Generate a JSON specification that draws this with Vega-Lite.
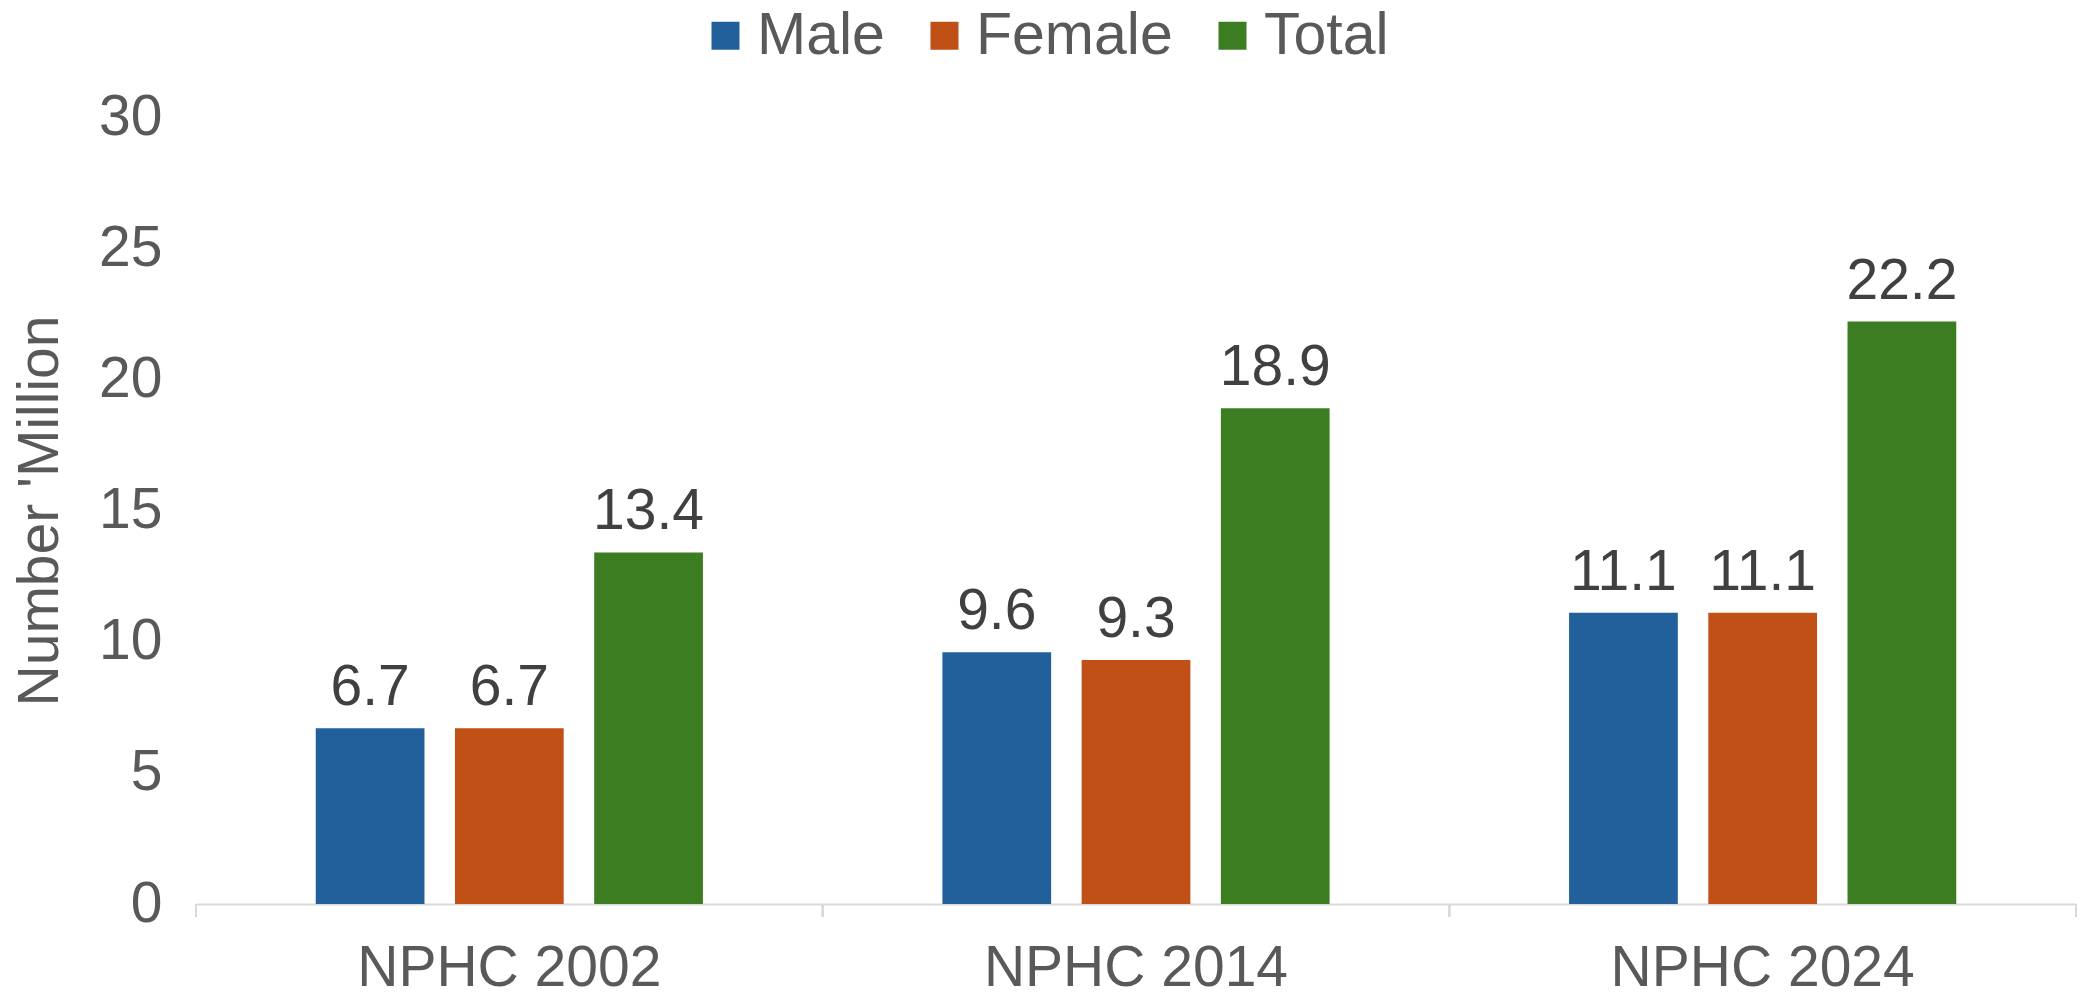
{
  "$schema": "https://vega.github.io/schema/vega-lite/v6.json",
  "width": 1880,
  "height": 787,
  "autosize": "none",
  "padding": {"left": 196, "top": 117, "right": 3, "bottom": 94},
  "background": "white",
  "config": {"view": {"stroke": null}, "font": "Liberation Sans"},
  "data": {
    "values": [
      {"census": "NPHC 2002", "series": "Male", "value": 6.7},
      {"census": "NPHC 2002", "series": "Female", "value": 6.7},
      {"census": "NPHC 2002", "series": "Total", "value": 13.4},
      {"census": "NPHC 2014", "series": "Male", "value": 9.6},
      {"census": "NPHC 2014", "series": "Female", "value": 9.3},
      {"census": "NPHC 2014", "series": "Total", "value": 18.9},
      {"census": "NPHC 2024", "series": "Male", "value": 11.1},
      {"census": "NPHC 2024", "series": "Female", "value": 11.1},
      {"census": "NPHC 2024", "series": "Total", "value": 22.2}
    ]
  },
  "layer": [
    {
      "mark": {"type": "bar"},
      "encoding": {
        "x": {
          "field": "census", "type": "nominal",
          "sort": ["NPHC 2002", "NPHC 2014", "NPHC 2024"],
          "scale": {"paddingInner": 0, "paddingOuter": 0},
          "axis": {
            "title": null, "domainColor": "#d9d9d9", "domainWidth": 2,
            "ticks": false, "labelFontSize": 57, "labelColor": "#595959",
            "labelPadding": 36, "labelLimit": 600, "grid": false, "labelAngle": 0
          }
        },
        "xOffset": {
          "field": "series", "type": "nominal",
          "sort": ["Male", "Female", "Total"],
          "scale": {"paddingInner": 0.219, "paddingOuter": 0.86}
        },
        "y": {
          "field": "value", "type": "quantitative",
          "scale": {"domain": [0, 30], "nice": false},
          "axis": {
            "values": [0, 5, 10, 15, 20, 25, 30],
            "domain": false, "ticks": false, "grid": false,
            "labelFontSize": 57, "labelColor": "#595959", "labelPadding": 34,
            "title": "Number 'Million", "titleFontSize": 57, "titleColor": "#595959",
            "titleFontWeight": "normal", "titlePadding": 29
          }
        },
        "color": {
          "field": "series", "type": "nominal",
          "scale": {"domain": ["Male", "Female", "Total"], "range": ["#22609B", "#C05016", "#3C7D22"]},
          "legend": {
            "orient": "none", "legendX": 500, "legendY": -111,
            "direction": "horizontal", "title": null,
            "symbolType": "square", "symbolSize": 784, "symbolStrokeWidth": 0,
            "labelFontSize": 59, "labelColor": "#595959", "labelLimit": 600,
            "columnPadding": 30, "labelOffset": 2
          }
        }
      }
    },
    {
      "mark": {"type": "text", "dy": -23, "baseline": "alphabetic", "fontSize": 57, "color": "#404040"},
      "encoding": {
        "x": {"field": "census", "type": "nominal", "sort": ["NPHC 2002", "NPHC 2014", "NPHC 2024"]},
        "xOffset": {"field": "series", "type": "nominal", "sort": ["Male", "Female", "Total"]},
        "y": {"field": "value", "type": "quantitative"},
        "text": {"field": "value", "type": "quantitative", "format": ".1f"}
      }
    },
    {
      "mark": {"type": "rule", "color": "#d9d9d9", "strokeWidth": 2, "y2Offset": 13},
      "encoding": {
        "x": {"field": "census", "type": "nominal", "sort": ["NPHC 2002", "NPHC 2014", "NPHC 2024"], "bandPosition": 0},
        "y": {"datum": 0, "type": "quantitative"},
        "y2": {"datum": 0}
      }
    },
    {
      "transform": [{"filter": "datum.census === 'NPHC 2024'"}],
      "mark": {"type": "rule", "color": "#d9d9d9", "strokeWidth": 2, "y2Offset": 13},
      "encoding": {
        "x": {"field": "census", "type": "nominal", "sort": ["NPHC 2002", "NPHC 2014", "NPHC 2024"], "bandPosition": 1},
        "y": {"datum": 0, "type": "quantitative"},
        "y2": {"datum": 0}
      }
    }
  ]
}
